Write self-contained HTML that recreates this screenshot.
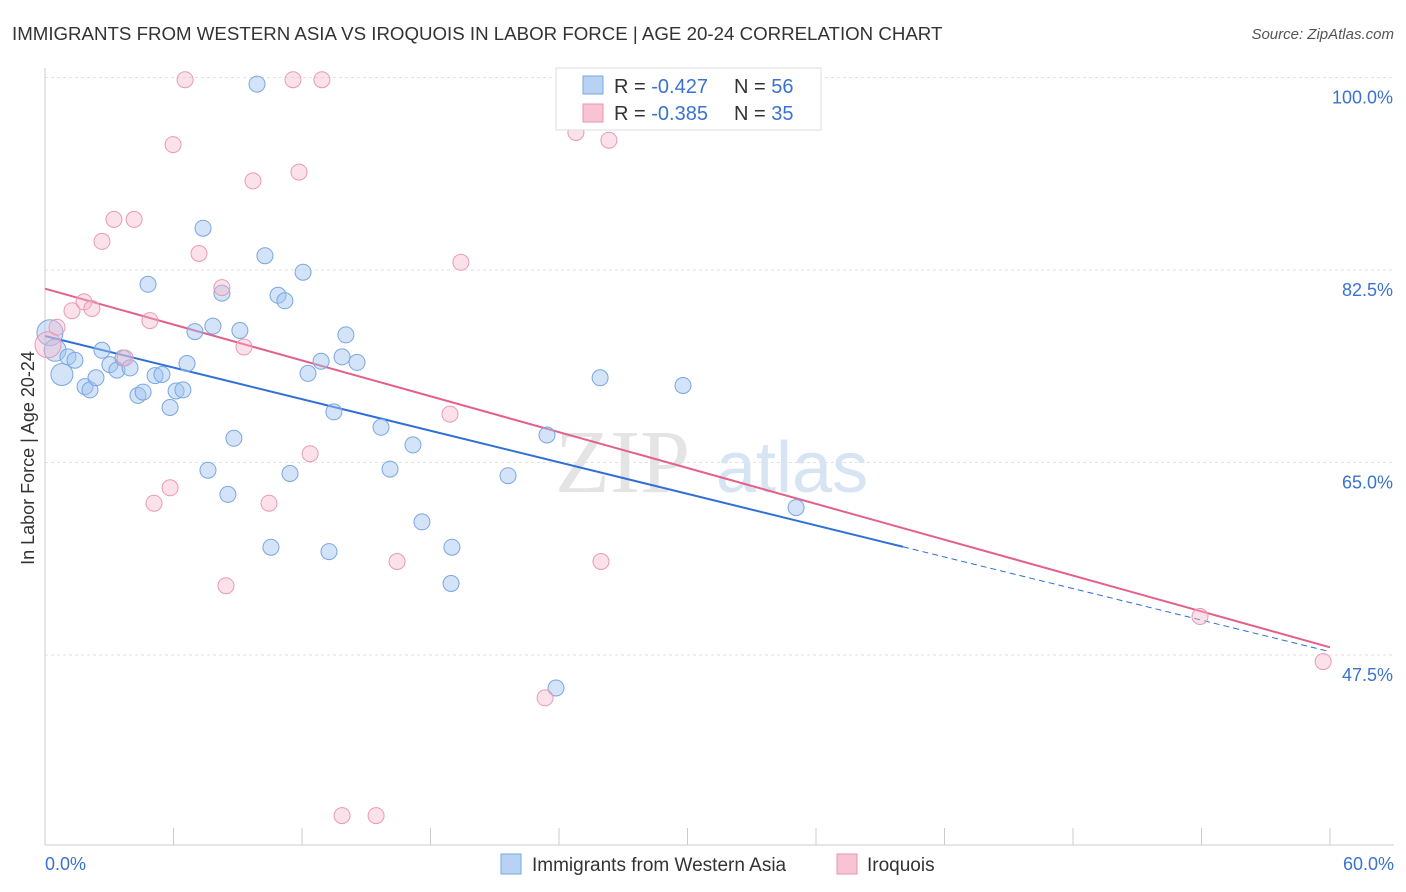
<!DOCTYPE html>
<html><head><meta charset="utf-8"><style>
body{margin:0;background:#fff;font-family:"Liberation Sans",sans-serif}
svg{display:block}
</style></head><body>
<svg id="chart" width="1406" height="892">
<text x="12" y="40" font-size="18.7" fill="#333">IMMIGRANTS FROM WESTERN ASIA VS IROQUOIS IN LABOR FORCE | AGE 20-24 CORRELATION CHART</text>
<text x="1394" y="39" font-size="15" fill="#555" font-style="italic" text-anchor="end">Source: ZipAtlas.com</text>
<text x="34" y="458" font-size="18" fill="#333" text-anchor="middle" transform="rotate(-90 34 458)">In Labor Force | Age 20-24</text>
<g><text x="555" y="492" font-size="90" fill="#e4e4e4" font-family="Liberation Serif">ZIP</text><text x="716" y="492" font-size="72" fill="#d6e4f4">atlas</text></g>
<g id="grid"></g><g id="axes"></g><g id="trends"></g><g id="pts"></g>
<g>
<rect x="556" y="68" width="265" height="62" fill="#fff" stroke="#ddd"/>
<rect x="583" y="76" width="20" height="18" fill="#b8d2f4" stroke="#7aa6e0"/>
<text x="614" y="93" font-size="20" fill="#333">R = <tspan fill="#3a72d0">-0.427</tspan><tspan x="734">N = </tspan><tspan fill="#3a72d0">56</tspan></text>
<rect x="583" y="104" width="20" height="18" fill="#f8c4d4" stroke="#e896b0"/>
<text x="614" y="120" font-size="20" fill="#333">R = <tspan fill="#3a72d0">-0.385</tspan><tspan x="734">N = </tspan><tspan fill="#3a72d0">35</tspan></text>
</g>
<g>
<rect x="501" y="854" width="20" height="20" fill="#b8d2f4" stroke="#7aa6e0"/>
<text x="532" y="871" font-size="19" fill="#333">Immigrants from Western Asia</text>
<rect x="837" y="854" width="20" height="20" fill="#f8c4d4" stroke="#e896b0"/>
<text x="867" y="871" font-size="19" fill="#333">Iroquois</text>
</g>
</svg>
<script>
const blueX=[0.23,0.47,0.79,1.07,1.4,1.87,2.1,2.38,2.66,3.03,3.36,3.64,3.97,4.34,4.58,4.81,5.14,5.46,5.84,6.12,6.44,6.63,7.0,7.38,7.61,7.84,8.26,8.54,8.82,9.1,9.9,10.27,10.55,10.88,11.2,11.44,12.05,12.28,12.89,13.26,13.49,13.87,14.05,14.57,15.69,16.11,17.18,17.6,18.96,19.0,21.62,23.44,23.86,25.92,29.79,35.07];
const blueY=[76.8,75.2,73.0,74.6,74.3,71.9,71.6,72.7,75.2,73.9,73.4,74.5,73.6,71.1,71.4,81.2,72.9,73.0,70.0,71.5,71.6,74.0,76.9,86.3,64.3,77.4,80.4,62.1,67.2,77.0,99.4,83.8,57.3,80.2,79.7,64.0,82.3,73.1,74.2,56.9,69.6,74.6,76.6,74.1,68.2,64.4,66.6,59.6,54.0,57.3,63.8,67.5,44.5,72.7,72.0,60.9];
const pinkX=[0.14,0.56,1.26,1.82,2.19,2.66,3.22,4.16,3.74,4.9,5.09,5.84,5.98,6.54,7.19,8.26,8.45,9.29,9.71,10.46,11.58,11.86,12.38,12.93,13.87,15.46,16.44,18.91,19.42,23.35,24.79,25.96,26.33,53.93,59.68];
const pinkY=[75.7,77.3,78.8,79.6,79.0,85.1,87.1,87.1,74.5,77.9,61.3,62.7,93.9,99.8,84.0,80.9,53.8,75.5,90.6,61.3,99.8,91.4,65.8,99.8,32.9,32.9,56.0,69.4,83.2,43.6,95.0,56.0,94.3,51.0,46.9];
const blueTrend=[76.5,47.8]; // y at x=0, x=60
const pinkTrend=[80.8,48.2];
const blueSolidEnd=40.06;
const yTicks=[100,82.5,65,47.5];
const yTickLabels=["100.0%","82.5%","65.0%","47.5%"];
const xTicks=[0,6,12,18,24,30,36,42,48,54,60];
const NS="http://www.w3.org/2000/svg";
const sx=v=>45+v*1285/60, sy=v=>77.5+(100-v)*11;
function mk(p,t,a){const e=document.createElementNS(NS,t);for(const k in a)e.setAttribute(k,a[k]);document.getElementById(p).appendChild(e);return e;}
yTicks.forEach((v,i)=>{
 const l=mk('grid','line',{x1:45,x2:1394,y1:sy(v),y2:sy(v),stroke:'#e2e2e2','stroke-dasharray':'3,3'});
 
 
 const t=mk('grid','text',{x:1393,y:sy(v)+26,'font-size':18,fill:'#3a72d0','text-anchor':'end'});
 t.textContent=yTickLabels[i];
 
 
});
mk('axes','line',{x1:45,x2:45,y1:68,y2:845,stroke:'#ccc'});
mk('axes','line',{x1:45,x2:1394,y1:845,y2:845,stroke:'#ccc'});
xTicks.forEach(v=>{const l=mk('axes','line',{x1:sx(v),x2:sx(v),y1:828,y2:845,stroke:'#ccc'});
 
 });
let t0=mk('axes','text',{x:45,y:870,'font-size':18,fill:'#3a72d0'});t0.textContent='0.0%';


let t1=mk('axes','text',{x:1394,y:870,'font-size':18,fill:'#3a72d0','text-anchor':'end'});t1.textContent='60.0%';


const by=x=>blueTrend[0]+(blueTrend[1]-blueTrend[0])*x/60, py=x=>pinkTrend[0]+(pinkTrend[1]-pinkTrend[0])*x/60;
blueX.forEach((x,i)=>{const big=i<3;const c=mk('pts','circle',{cx:sx(x),cy:sy(blueY[i]),r:big?(i==0?13:11):8,fill:'rgba(160,196,240,0.45)',stroke:'#7aa6e0','stroke-width':1});
 
 });
pinkX.forEach((x,i)=>{const c=mk('pts','circle',{cx:sx(x),cy:sy(pinkY[i]),r:i==0?13:8,fill:'rgba(246,182,202,0.4)',stroke:'#ea9ab3','stroke-width':1});
 
 });
let a=mk('trends','line',{x1:sx(0),y1:sy(by(0)),x2:sx(blueSolidEnd),y2:sy(by(blueSolidEnd)),stroke:'#2f6fd6','stroke-width':2});


let b=mk('trends','line',{x1:sx(blueSolidEnd),y1:sy(by(blueSolidEnd)),x2:sx(60),y2:sy(by(60)),stroke:'#2f6fd6','stroke-width':1,'stroke-dasharray':'6,4'});


let c=mk('trends','line',{x1:sx(0),y1:sy(py(0)),x2:sx(60),y2:sy(py(60)),stroke:'#e4608a','stroke-width':2});


</script>
</body></html>
